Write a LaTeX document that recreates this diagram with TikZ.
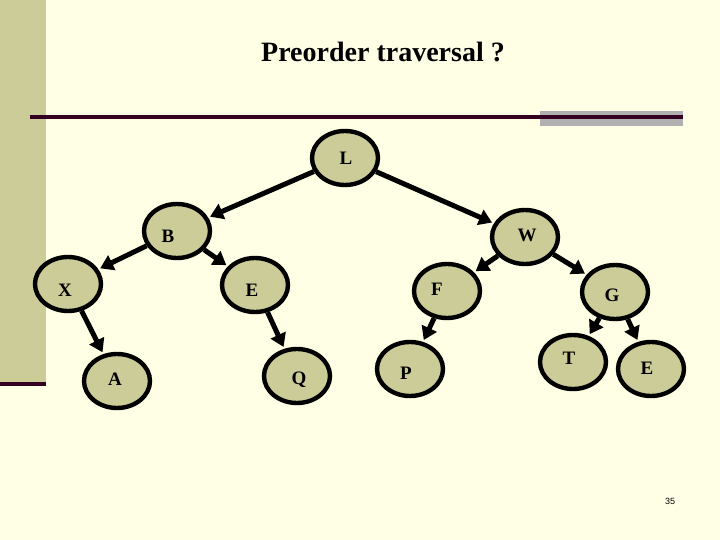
\documentclass[tikz,border=0pt]{standalone}
\usepackage{fontspec}
\setmainfont{Liberation Serif}
\newfontfamily\pnfont{Liberation Sans}
\usetikzlibrary{arrows.meta,shapes.geometric}
\definecolor{bgc}{HTML}{FFFFE6}
\definecolor{khaki}{HTML}{CCCC99}
\definecolor{darkline}{HTML}{330022}
\definecolor{grayb}{HTML}{B0B0B0}
\begin{document}
\begin{tikzpicture}[x=1pt,y=-1pt,
  tnode/.style={draw=black, line width=4.4pt, fill=khaki, ellipse, minimum width=66pt, minimum height=54pt, inner sep=0pt},
  tlab/.style={font=\bfseries\fontsize{19}{19}\selectfont},
  tedge/.style={line width=5pt, -{Triangle[length=13pt,width=16pt]}, shorten >=2pt}]
\path[use as bounding box, fill=bgc] (0,0) rectangle (720,540);
% left bar
\fill[khaki] (0,0) rectangle (46,383);
\fill[darkline] (0,382) rectangle (46,386);
% top rule
\fill[grayb] (540,111) rectangle (683,126);
\fill[darkline] (30,115.5) rectangle (683,119);
% title
\node[font=\bfseries\fontsize{28}{28}\selectfont] (title) at (383,52) {Preorder traversal ?};
% nodes
\node[tnode] (L) at (345,158) {};
\node[tnode] (B) at (177,231) {};
\node[tnode] (W) at (525,237) {};
\node[tnode] (X) at (68,284) {};
\node[tnode] (E) at (255,285) {};
\node[tnode] (F) at (447,291) {};
\node[tnode] (G) at (615,292) {};
\node[tnode] (A) at (117,381) {};
\node[tnode] (Q) at (297,376) {};
\node[tnode] (P) at (410,369) {};
\node[tnode] (T) at (573,362) {};
\node[tnode] (E2) at (651,369) {};
% labels
\node[tlab] (lL) at (346,158) {L};
\node[tlab] (lB) at (168,236) {B};
\node[tlab] (lW) at (527,235) {W};
\node[tlab] (lX) at (65,290) {X};
\node[tlab] (lE) at (252,290) {E};
\node[tlab] (lF) at (437,289) {F};
\node[tlab] (lG) at (612,295) {G};
\node[tlab] (lA) at (115,379) {A};
\node[tlab] (lQ) at (299,380) {Q};
\node[tlab] (lP) at (406,373) {P};
\node[tlab] (lT) at (569,358) {T};
\node[tlab] (lE2) at (647,368) {E};
% edges
\draw[tedge] (L) -- (B);
\draw[tedge] (L) -- (W);
\draw[tedge] (B) -- (X);
\draw[tedge] (B) -- (E);
\draw[tedge] (W) -- (F);
\draw[tedge] (W) -- (G);
\draw[tedge] (X) -- (A);
\draw[tedge] (E) -- (Q);
\draw[tedge] (F) -- (P);
\draw[tedge] (G) -- (T);
\draw[tedge] (G) -- (E2);
% page number
\node[font=\pnfont\fontsize{9}{9}\selectfont] (pn) at (670,501) {35};
\end{tikzpicture}
\end{document}
